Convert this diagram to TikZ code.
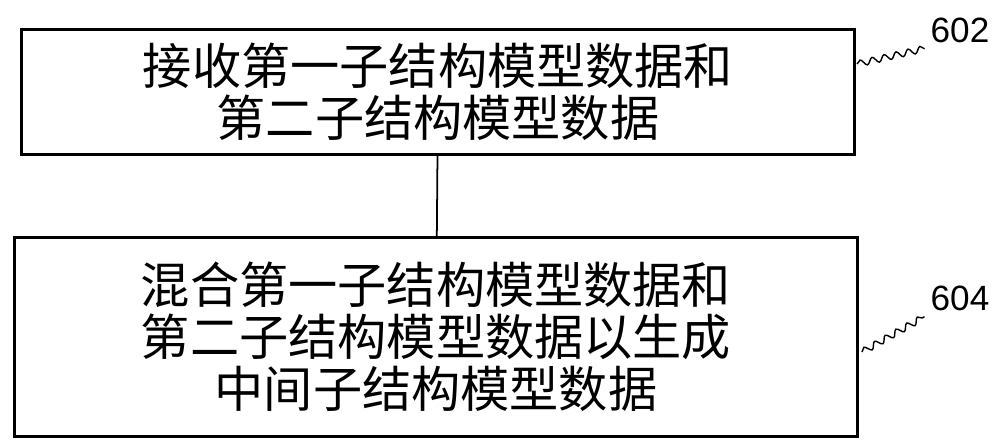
\documentclass[tikz,border=0pt]{standalone}
\usepackage{fontspec}
\newfontfamily\cjk{Noto Sans CJK SC}
\setmainfont{Liberation Sans}
\usetikzlibrary{decorations.pathmorphing}
\begin{document}
\begin{tikzpicture}[x=0.02cm,y=-0.02cm,
	stepbox/.style={draw,line width=1.6pt,align=center,font=\cjk\fontsize{28}{29.5}\selectfont},
	wave/.style={line width=0.8pt,decorate,decoration={snake,amplitude=1.8pt,segment length=7pt}}
	]
	\useasboundingbox (0,0) rectangle (1000,444);
	
	\node[stepbox,minimum width=833*0.02cm,minimum height=125*0.02cm] (S1) at (438,92) {接收第一子结构模型数据和\\第二子结构模型数据};
	\node[stepbox,minimum width=843*0.02cm,minimum height=199*0.02cm] (S2) at (436,337) {混合第一子结构模型数据和\\第二子结构模型数据以生成\\中间子结构模型数据};
	\draw[line width=1pt] (S1) -- (S2);
	
	\node[font=\fontsize{20}{20}\selectfont] (L1) at (960,30) {602};
	\node[font=\fontsize{20}{20}\selectfont] (L2) at (960,298) {604};
	\coordinate (W1) at (857,64);
	\coordinate (W2) at (862,352);
	\draw[wave] (W1) -- (L1.south west);
	\draw[wave] (W2) -- (L2.south west);
\end{tikzpicture}
\end{document}
